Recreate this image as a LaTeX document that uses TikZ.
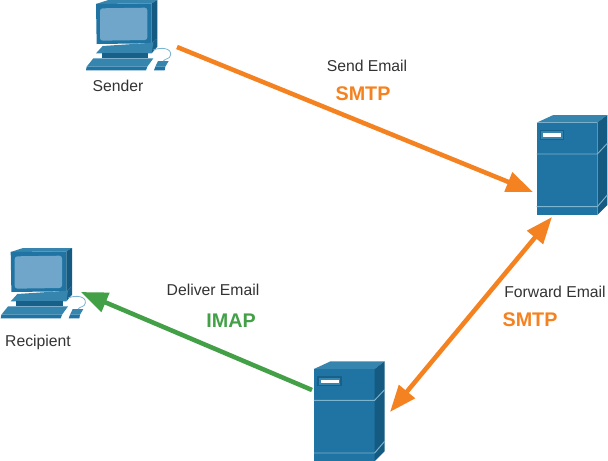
\documentclass[tikz,border=0pt]{standalone}
\usepackage{fontspec}
\setmainfont{Liberation Sans}
\usetikzlibrary{arrows.meta}
\definecolor{frontblue}{HTML}{1F74A3}
\definecolor{topblue}{HTML}{3585AE}
\definecolor{sideblue}{HTML}{155A80}
\definecolor{darkblue}{HTML}{17608A}
\definecolor{screenblue}{HTML}{6FA6C9}
\definecolor{seamblue}{HTML}{7DB4D0}
\definecolor{orangeflow}{HTML}{F58220}
\definecolor{greenflow}{HTML}{43A047}
\definecolor{labelgrey}{HTML}{333333}
\tikzset{
  flow/.style={line width=3.4pt,-{Triangle[length=20pt,width=15pt]}},
  flowboth/.style={line width=3.4pt,{Triangle[length=20pt,width=15pt]}-{Triangle[length=20pt,width=15pt]}},
  caption/.style={font=\fontsize{11.8}{14}\selectfont,text=labelgrey,inner sep=0pt},
  proto/.style={font=\fontsize{14.8}{17}\selectfont\bfseries,inner sep=0pt},
  computer/.pic={
    \begin{scope}[x=.25pt,y=-.25pt]
      \fill[topblue] (78,12) -- (115,0) -- (262,0) -- (245,10) -- cycle;
      \fill[frontblue] (78,12) -- (245,10) -- (245,130) -- (80,132) -- cycle;
      \fill[sideblue] (245,10) -- (262,0) -- (262,115) -- (245,130) -- cycle;
      \fill[screenblue,rounded corners=2pt] (90,25) -- (232,23) -- (232,120) -- (90,122) -- cycle;
      \fill[darkblue] (245,130) -- (262,115) -- (262,140) -- (245,160) -- cycle;
      \fill[topblue] (98,138) -- (250,128) -- (245,160) -- (78,160) -- cycle;
      \fill[darkblue] (95,160) -- (235,160) -- (235,175) -- (95,175) -- cycle;
      \fill[topblue] (70,175) -- (250,175) -- (232,200) -- (50,200) -- cycle;
      \fill[frontblue] (50,200) -- (232,200) -- (228,211) -- (48,211) -- cycle;
      \fill[topblue] (264,183) -- (296,183) -- (286,200) -- (256,200) -- cycle;
      \fill[frontblue] (256,200) -- (286,200) -- (284,211) -- (252,211) -- cycle;
      \draw[seamblue,line width=.6pt] (250,150) .. controls (275,140) and (305,145) .. (302,165) .. controls (300,178) and (285,175) .. (280,183);
    \end{scope}
  },
  server/.pic={
    \begin{scope}[x=.25pt,y=-.25pt]
      \fill[topblue] (50,38) -- (100,15) -- (262,15) -- (232,38) -- cycle;
      \fill[frontblue] (50,38) rectangle (232,315);
      \fill[sideblue] (232,38) -- (262,15) -- (262,285) -- (232,315) -- cycle;
      \draw[seamblue,line width=.7pt] (50,132) -- (232,132) -- (262,100);
      \draw[seamblue,line width=.7pt] (50,290) -- (232,290) -- (262,255);
      \fill[darkblue] (60,60) rectangle (133,90);
      \fill[topblue] (64,64) rectangle (129,86);
      \fill[white] (70,70) rectangle (124,80);
    \end{scope}
  }
}
\begin{document}
\begin{tikzpicture}[x=.75pt,y=-.75pt]
  \useasboundingbox (0,0) rectangle (608,461);
  \clip (0,0) rectangle (608,461);
  \fill[white] (0,0) rectangle (608,461);
  \pic at (70,0) {computer};
  \pic at (-15.3,248) {computer};
  \pic at (520,110) {server};
  \pic at (297.3,356.3) {server};
  \coordinate (senderport) at (177,47);
  \coordinate (mailone) at (533,192);
  \coordinate (mailonelow) at (552,217);
  \coordinate (mailtwo) at (390,412);
  \coordinate (mailtwoleft) at (312,390);
  \coordinate (recipientport) at (81,292);
  \draw[flow,orangeflow] (senderport) -- (mailone);
  \draw[flowboth,orangeflow] (mailonelow) -- (mailtwo);
  \draw[flow,greenflow] (mailtwoleft) -- (recipientport);
  \node[caption] (sendername) at (118,86) {Sender};
  \node[caption] (recipientname) at (38,342) {Recipient};
  \node[caption] (sendlabel) at (367,66) {Send Email};
  \node[proto,text=orangeflow] (sendproto) at (363,94) {SMTP};
  \node[caption] (forwardlabel) at (555,292) {Forward Email};
  \node[proto,text=orangeflow] (forwardproto) at (530,320) {SMTP};
  \node[caption] (deliverlabel) at (213,290) {Deliver Email};
  \node[proto,text=greenflow] (deliverproto) at (231,321) {IMAP};
\end{tikzpicture}
\end{document}
